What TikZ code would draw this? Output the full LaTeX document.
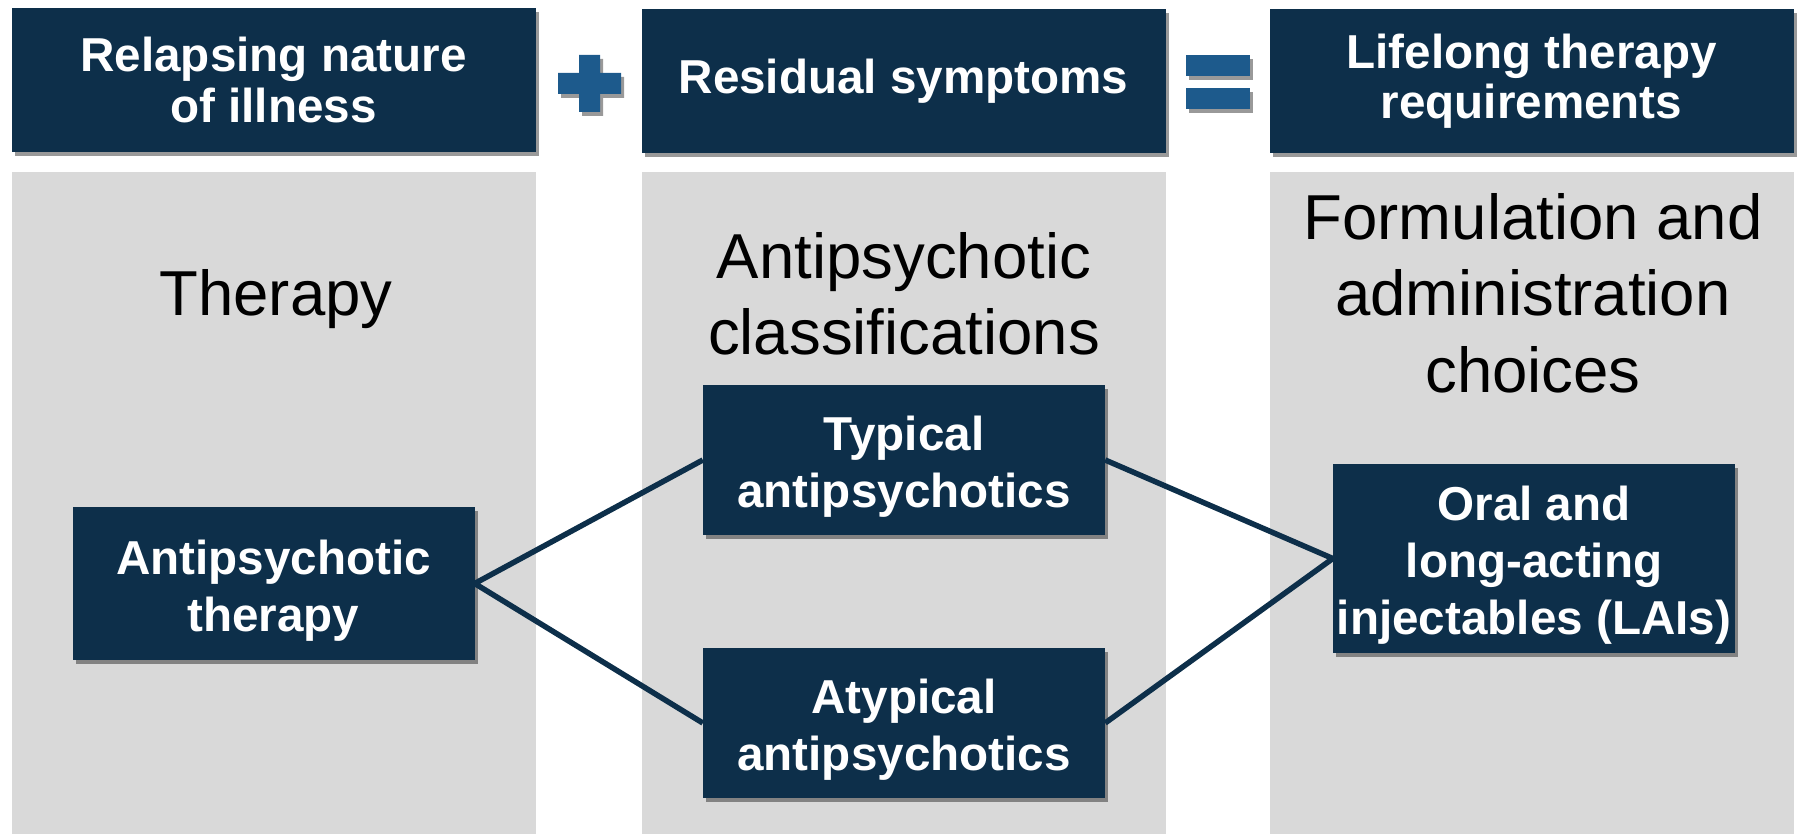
\documentclass[tikz,border=0pt]{standalone}
\usepackage{fontspec}
\setmainfont{Liberation Sans}
\usetikzlibrary{shadows}
\definecolor{navy}{RGB}{13,47,74}
\definecolor{opblue}{RGB}{29,90,140}
\definecolor{panelgrey}{RGB}{217,217,217}
\begin{document}
\begin{tikzpicture}[x=1pt,y=-1pt,
  shad/.style={drop shadow={shadow xshift=3pt,shadow yshift=-4pt,opacity=.4,fill=black}},
  hbox/.style={fill=navy,text=white,font=\bfseries\fontsize{47.6}{50.5}\selectfont,align=center,inner sep=0pt,minimum width=524pt,minimum height=144pt,shad},
  mbox/.style={fill=navy,inner sep=0pt,minimum width=402pt,shad},
  btext/.style={text=white,font=\bfseries\fontsize{47.6}{57}\selectfont,align=center,inner sep=0pt,yshift=-7pt},
  panel/.style={fill=panelgrey,inner sep=0pt,minimum width=524pt,minimum height=662pt},
  title/.style={font=\fontsize{63.5}{76.5}\selectfont,align=center,inner sep=0pt},
  link/.style={draw=navy,line width=5.5pt}]
\useasboundingbox (0,0) rectangle (1801,834);
% panels
\node[panel] (p1) at (273.5,503) {};
\node[panel] (p2) at (903.5,503) {};
\node[panel] (p3) at (1531.5,503) {};
% header boxes
\node[hbox] (h1) at (273.5,80) {Relapsing nature\\of illness};
\node[hbox] (h2) at (903.5,81) {Residual symptoms};
\node[hbox] (h3) at (1531.5,81) {Lifelong therapy\\requirements};
% operators
\fill[opblue,shad] (579,55) rectangle (600,112) (558,73) rectangle (621,94);
\fill[opblue,shad] (1186,55) rectangle (1250,76);
\fill[opblue,shad] (1186,88) rectangle (1250,109);
% titles
\node[title] (t1) at (276,299) {Therapy};
\node[title] (t2) at (904,294) {Antipsychotic\\classifications};
\node[title] (t3) at (1533,293) {Formulation and\\administration\\choices};
% inner boxes
\node[mbox,minimum height=153pt,label={[btext]center:{Antipsychotic\\therapy}}] (at) at (273.5,583.5) {};
\node[mbox,minimum height=150pt,label={[btext]center:{Typical\\antipsychotics}}] (typ) at (904,460) {};
\node[mbox,minimum height=150pt,label={[btext]center:{Atypical\\antipsychotics}}] (atyp) at (904,723) {};
\node[mbox,minimum height=189pt,label={[btext]center:{Oral and\\long-acting\\injectables (LAIs)}}] (oral) at (1534,558.5) {};
% connectors
\draw[link] (typ.west) -- (at.east) -- (atyp.west);
\draw[link] (typ.east) -- (oral.west) -- (atyp.east);
\end{tikzpicture}
\end{document}
